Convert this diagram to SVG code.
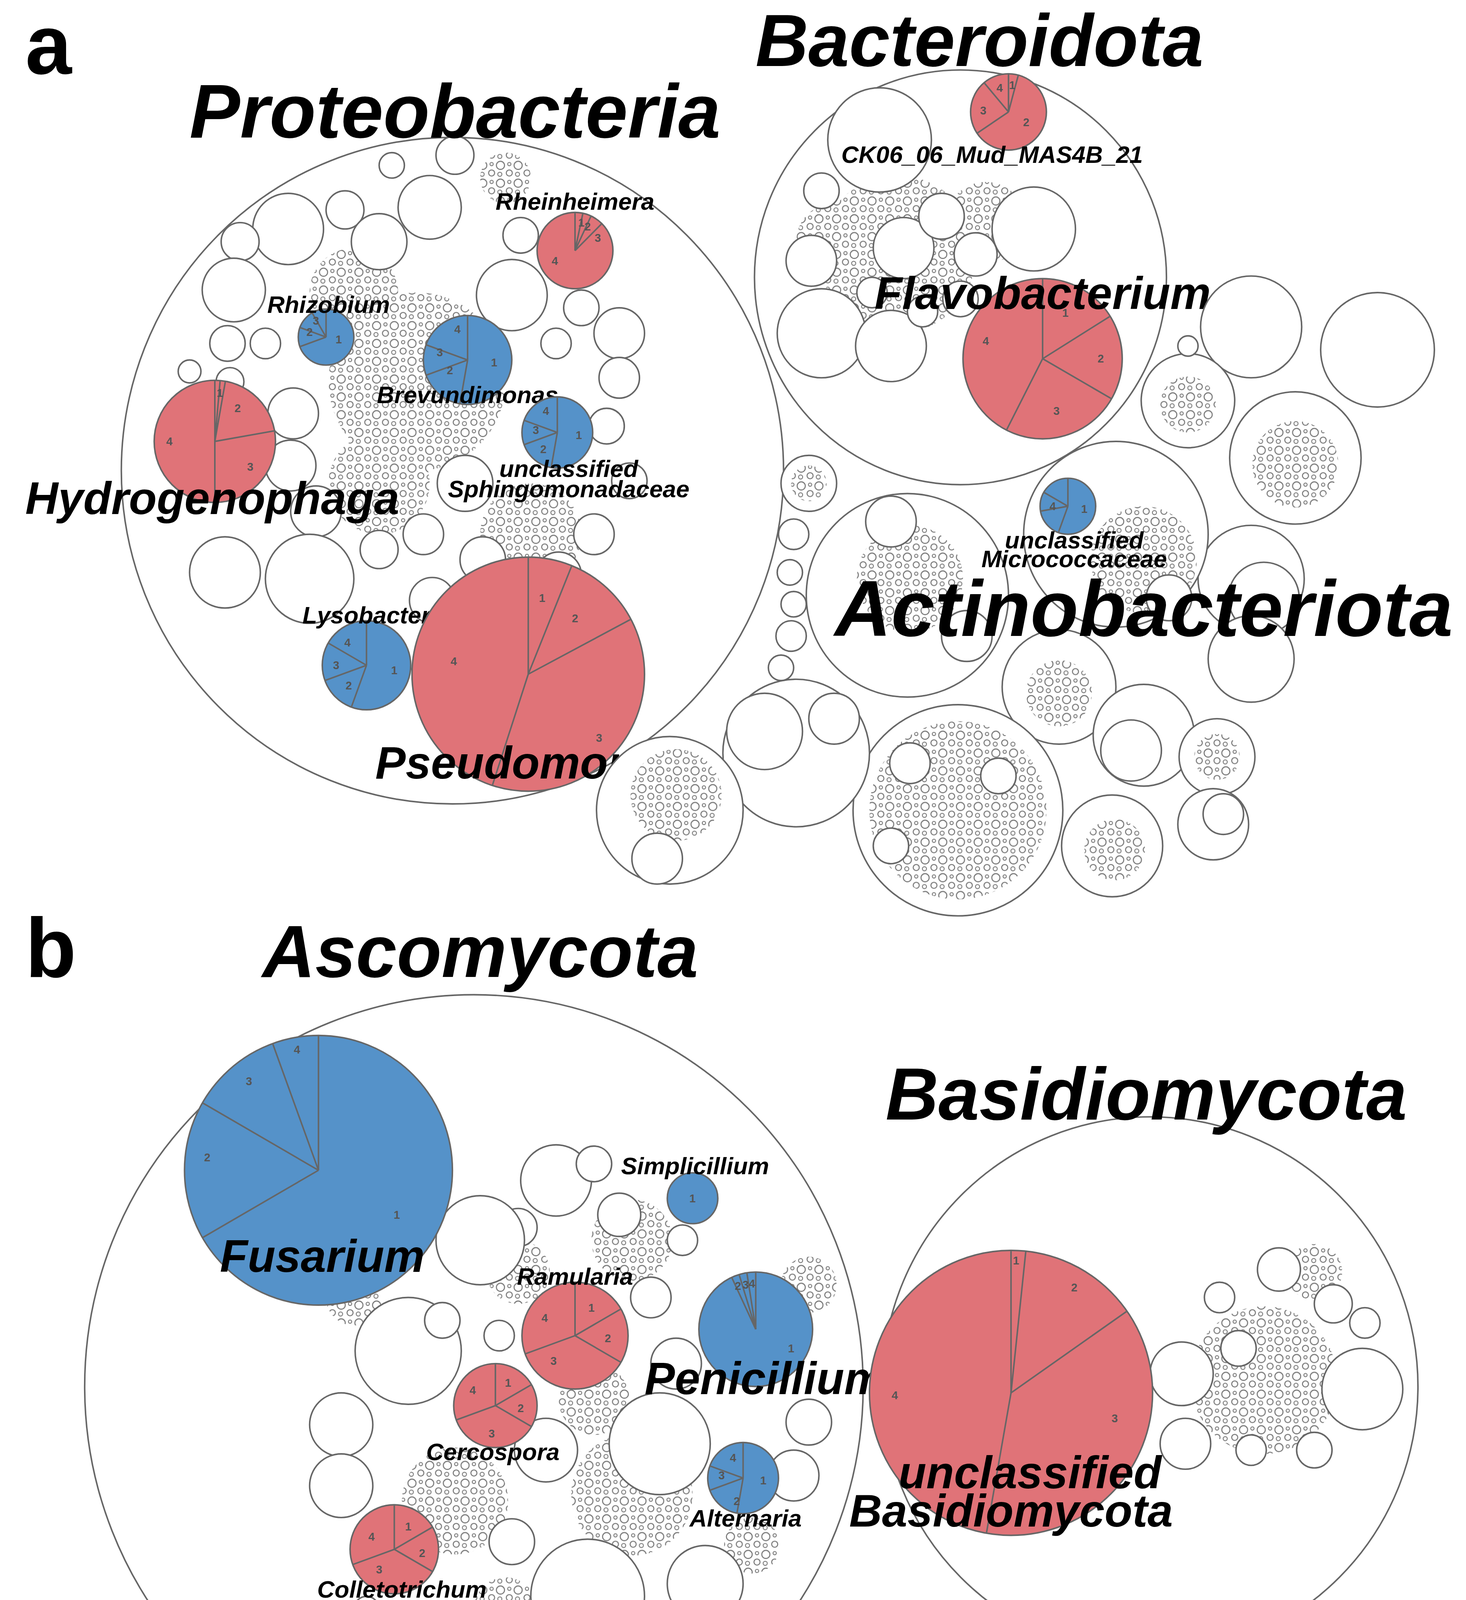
<svg xmlns="http://www.w3.org/2000/svg" width="3753" height="5106" viewBox="0 0 3753 5106">
<defs>
<style>
.w{fill:#fff;stroke:#666;stroke-width:1.2}
.big{fill:none;stroke:#666;stroke-width:1.2}
.r{fill:#e07378;stroke:#666;stroke-width:1.2}
.b{fill:#5592c9;stroke:#666;stroke-width:1.2}
.d{fill:url(#dots);stroke:none}
.s line{stroke:#666;stroke-width:1.2}
.n{font-family:"Liberation Sans",Arial,sans-serif;font-weight:bold;font-size:9px;fill:#555;text-anchor:middle;dominant-baseline:central}
.l{font-family:"Liberation Sans",Arial,sans-serif;font-weight:bold;font-style:italic;fill:#000;text-anchor:middle}
.lg{font-family:"Liberation Sans",Arial,sans-serif;font-weight:bold;font-size:27px;fill:#111}
</style>
<pattern id="dots" width="14" height="14" patternUnits="userSpaceOnUse">
<rect width="14" height="14" fill="#fff"/>
<circle cx="4" cy="4" r="3.2" fill="none" stroke="#777" stroke-width="0.8"/>
<circle cx="11" cy="10" r="2.4" fill="none" stroke="#777" stroke-width="0.8"/>
<circle cx="3.5" cy="11" r="1.6" fill="none" stroke="#777" stroke-width="0.7"/>
<circle cx="11" cy="3" r="1.3" fill="none" stroke="#777" stroke-width="0.7"/>
</pattern>
</defs>
<rect width="3753" height="5106" fill="#fff"/>
<g transform="scale(3.2353,3.2564)">
<text x="20" y="58" style="font-family:'Liberation Sans',Arial,sans-serif;font-weight:bold;font-size:66px">a</text>
<text x="20" y="768" style="font-family:'Liberation Sans',Arial,sans-serif;font-weight:bold;font-size:66px">b</text>

<g id="proteobacteria">
<circle class="big" cx="358" cy="370" r="262"/>
<circle class="d" cx="330" cy="300" r="70"/><circle class="d" cx="420" cy="420" r="40"/><circle class="d" cx="280" cy="230" r="35"/><circle class="d" cx="300" cy="380" r="40"/><circle class="d" cx="400" cy="140" r="20"/>
<circle class="w" cx="228" cy="180" r="28"/><circle class="w" cx="190" cy="190" r="15"/><circle class="w" cx="185" cy="228" r="25"/><circle class="w" cx="273" cy="165" r="15"/><circle class="w" cx="300" cy="190" r="22"/><circle class="w" cx="340" cy="163" r="25"/><circle class="w" cx="360" cy="122" r="15"/><circle class="w" cx="405" cy="232" r="28"/><circle class="w" cx="412" cy="185" r="14"/><circle class="w" cx="490" cy="262" r="20"/><circle class="w" cx="490" cy="297" r="16"/><circle class="w" cx="480" cy="335" r="14"/><circle class="w" cx="498" cy="378" r="14"/><circle class="w" cx="460" cy="242" r="14"/><circle class="w" cx="232" cy="325" r="20"/><circle class="w" cx="230" cy="366" r="20"/><circle class="w" cx="250" cy="402" r="20"/><circle class="w" cx="245" cy="455" r="35"/><circle class="w" cx="178" cy="450" r="28"/><circle class="w" cx="300" cy="432" r="15"/><circle class="w" cx="335" cy="420" r="16"/><circle class="w" cx="368" cy="380" r="22"/><circle class="w" cx="382" cy="440" r="18"/><circle class="w" cx="342" cy="472" r="18"/><circle class="w" cx="180" cy="270" r="14"/><circle class="w" cx="182" cy="300" r="11"/><circle class="w" cx="470" cy="420" r="16"/><circle class="w" cx="442" cy="452" r="18"/><circle class="w" cx="150" cy="292" r="9"/><circle class="w" cx="210" cy="270" r="12"/><circle class="w" cx="310" cy="130" r="10"/><circle class="w" cx="440" cy="270" r="12"/>
</g>
<g id="pie-rheinheimera" class="s" transform="translate(455,197)"><circle class="r" r="30"/><line y2="-30"/><line y2="-30" transform="rotate(12)"/><line y2="-30" transform="rotate(25)"/><line y2="-30" transform="rotate(45)"/><text class="n" x="18" y="-10">3</text><text class="n" x="-16" y="8">4</text><text class="n" x="5" y="-22">1</text><text class="n" x="10" y="-19">2</text></g>
<text class="l" x="455" y="165" font-size="19">Rheinheimera</text>
<g id="pie-rhizobium" class="s" transform="translate(258,265)"><circle class="b" r="22"/><line y2="-22"/><line y2="-22" transform="rotate(250)"/><line y2="-22" transform="rotate(290)"/><line y2="-22" transform="rotate(330)"/><text class="n" x="10" y="2">1</text><text class="n" x="-13" y="-4">2</text><text class="n" x="-8" y="-13">3</text></g>
<text class="l" x="260" y="246" font-size="19">Rhizobium</text>
<g id="pie-brevundimonas" class="s" transform="translate(370,283)"><circle class="b" r="35"/><line y2="-35"/><line y2="-35" transform="rotate(190)"/><line y2="-35" transform="rotate(250)"/><line y2="-35" transform="rotate(290)"/><text class="n" x="21" y="2">1</text><text class="n" x="-14" y="8">2</text><text class="n" x="-22" y="-6">3</text><text class="n" x="-8" y="-24">4</text></g>
<text class="l" x="370" y="317" font-size="19">Brevundimonas</text>
<g id="pie-sphingomonadaceae" class="s" transform="translate(441,340)"><circle class="b" r="28"/><line y2="-28"/><line y2="-28" transform="rotate(190)"/><line y2="-28" transform="rotate(250)"/><line y2="-28" transform="rotate(290)"/><text class="n" x="17" y="2">1</text><text class="n" x="-11" y="13">2</text><text class="n" x="-17" y="-2">3</text><text class="n" x="-9" y="-17">4</text></g>
<text class="l" x="450" y="375" font-size="19">unclassified</text>
<text class="l" x="450" y="391" font-size="19">Sphingomonadaceae</text>
<g id="pie-hydrogenophaga" class="s" transform="translate(170,347)"><circle class="r" r="48"/><line y2="-48"/><line y2="-48" transform="rotate(5)"/><line y2="-48" transform="rotate(10)"/><line y2="-48" transform="rotate(80)"/><line y2="-48" transform="rotate(180)"/><text class="n" x="18" y="-26">2</text><text class="n" x="28" y="20">3</text><text class="n" x="-36" y="0">4</text><text class="n" x="4" y="-38">1</text></g>
<text class="l" x="168" y="404" font-size="36">Hydrogenophaga</text>
<g id="pie-lysobacter" class="s" transform="translate(290,523)"><circle class="b" r="35"/><line y2="-35"/><line y2="-35" transform="rotate(200)"/><line y2="-35" transform="rotate(250)"/><line y2="-35" transform="rotate(300)"/><text class="n" x="22" y="4">1</text><text class="n" x="-14" y="16">2</text><text class="n" x="-24" y="0">3</text><text class="n" x="-15" y="-18">4</text></g>
<text class="l" x="290" y="490" font-size="19">Lysobacter</text>
<g id="pie-pseudomonas" class="s" transform="translate(418,530)"><circle class="r" r="92"/><line y2="-92"/><line y2="-92" transform="rotate(22)"/><line y2="-92" transform="rotate(62)"/><line y2="-92" transform="rotate(198)"/><text class="n" x="11" y="-60">1</text><text class="n" x="37" y="-44">2</text><text class="n" x="56" y="50">3</text><text class="n" x="-59" y="-10">4</text></g>
<text class="l" x="420" y="612" font-size="36">Pseudomonas</text>
<text class="l" x="360" y="108" font-size="60">Proteobacteria</text>

<g id="bacteroidota">
<circle class="big" cx="760" cy="218" r="163"/>
<circle class="d" cx="710" cy="200" r="62"/><circle class="d" cx="780" cy="175" r="32"/><circle class="d" cx="660" cy="190" r="30"/>
<circle class="w" cx="696" cy="110" r="41"/><circle class="w" cx="818" cy="180" r="33"/><circle class="w" cx="650" cy="262" r="35"/><circle class="w" cx="705" cy="272" r="28"/><circle class="w" cx="642" cy="205" r="20"/><circle class="w" cx="715" cy="195" r="24"/><circle class="w" cx="745" cy="170" r="18"/><circle class="w" cx="772" cy="200" r="17"/><circle class="w" cx="650" cy="150" r="14"/><circle class="w" cx="760" cy="235" r="14"/><circle class="w" cx="730" cy="245" r="12"/><circle class="w" cx="690" cy="230" r="12"/>
</g>
<g id="pie-bacteroidota" class="s" transform="translate(798,88)"><circle class="r" r="30"/><line y2="-30"/><line y2="-30" transform="rotate(15)"/><line y2="-30" transform="rotate(236)"/><line y2="-30" transform="rotate(320)"/><text class="n" x="14" y="8">2</text><text class="n" x="-20" y="-1">3</text><text class="n" x="-7" y="-19">4</text><text class="n" x="3" y="-21">1</text></g>
<text class="l" x="785" y="128" font-size="19">CK06_06_Mud_MAS4B_21</text>
<g id="pie-flavobacterium" class="s" transform="translate(825,282)"><circle class="r" r="63"/><line y2="-63"/><line y2="-63" transform="rotate(58)"/><line y2="-63" transform="rotate(120)"/><line y2="-63" transform="rotate(207)"/><text class="n" x="18" y="-36">1</text><text class="n" x="46" y="0">2</text><text class="n" x="11" y="41">3</text><text class="n" x="-45" y="-14">4</text></g>
<text class="l" x="825" y="243" font-size="36">Flavobacterium</text>
<text class="l" x="775" y="52" font-size="58">Bacteroidota</text>

<g id="actinobacteriota">
<circle class="w" cx="1090" cy="275" r="45"/><circle class="w" cx="990" cy="257" r="40"/><circle class="w" cx="940" cy="315" r="37"/><circle class="d" cx="940" cy="318" r="22"/>
<circle class="w" cx="1025" cy="360" r="52"/><circle class="d" cx="1025" cy="365" r="34"/>
<circle class="w" cx="990" cy="455" r="42"/><circle class="w" cx="1000" cy="470" r="28"/><circle class="w" cx="990" cy="518" r="34"/>
<circle class="w" cx="718" cy="468" r="80"/><circle class="d" cx="720" cy="455" r="42"/><circle class="w" cx="705" cy="410" r="20"/><circle class="w" cx="765" cy="500" r="20"/>
<circle class="w" cx="883" cy="420" r="73"/><circle class="d" cx="905" cy="440" r="42"/><circle class="w" cx="925" cy="470" r="18"/>
<circle class="w" cx="838" cy="540" r="45"/><circle class="d" cx="838" cy="545" r="26"/>
<circle class="w" cx="905" cy="578" r="40"/><circle class="w" cx="895" cy="590" r="24"/>
<circle class="w" cx="963" cy="595" r="30"/><circle class="d" cx="963" cy="595" r="18"/>
<circle class="w" cx="960" cy="648" r="28"/><circle class="w" cx="968" cy="640" r="16"/>
<circle class="w" cx="880" cy="665" r="40"/><circle class="d" cx="882" cy="668" r="24"/>
<circle class="w" cx="758" cy="637" r="83"/><circle class="d" cx="758" cy="637" r="70"/><circle class="w" cx="720" cy="600" r="16"/><circle class="w" cx="790" cy="610" r="14"/><circle class="w" cx="705" cy="665" r="14"/>
<circle class="w" cx="630" cy="592" r="58"/><circle class="w" cx="605" cy="575" r="30"/><circle class="w" cx="660" cy="565" r="20"/>
<circle class="w" cx="530" cy="637" r="58"/><circle class="d" cx="535" cy="625" r="36"/><circle class="w" cx="520" cy="675" r="20"/>
<circle class="w" cx="640" cy="380" r="22"/><circle class="d" cx="640" cy="380" r="14"/><circle class="w" cx="628" cy="420" r="12"/><circle class="w" cx="625" cy="450" r="10"/><circle class="w" cx="628" cy="475" r="10"/><circle class="w" cx="626" cy="500" r="12"/><circle class="w" cx="618" cy="525" r="10"/><circle class="w" cx="940" cy="272" r="8"/>
</g>
<g id="pie-micrococcaceae" class="s" transform="translate(845,398)"><circle class="b" r="22"/><line y2="-22"/><line y2="-22" transform="rotate(200)"/><line y2="-22" transform="rotate(260)"/><line y2="-22" transform="rotate(300)"/><text class="n" x="13" y="2">1</text><text class="n" x="-12" y="0">4</text></g>
<text class="l" x="850" y="431" font-size="19">unclassified</text>
<text class="l" x="850" y="446" font-size="19">Micrococcaceae</text>
<text class="l" x="905" y="500" font-size="62">Actinobacteriota</text>

<g id="ascomycota">
<circle class="big" cx="375" cy="1090" r="308"/>
<circle class="d" cx="500" cy="1175" r="48"/><circle class="d" cx="470" cy="1100" r="28"/><circle class="d" cx="360" cy="1180" r="42"/><circle class="d" cx="500" cy="975" r="32"/><circle class="d" cx="595" cy="1215" r="22"/><circle class="d" cx="410" cy="1000" r="25"/><circle class="d" cx="280" cy="1020" r="22"/><circle class="d" cx="640" cy="1010" r="22"/><circle class="d" cx="400" cy="1265" r="25"/>
<circle class="w" cx="440" cy="928" r="28"/><circle class="w" cx="490" cy="955" r="17"/><circle class="w" cx="410" cy="965" r="15"/><circle class="w" cx="380" cy="975" r="35"/><circle class="w" cx="323" cy="1062" r="42"/><circle class="w" cx="270" cy="1120" r="25"/><circle class="w" cx="270" cy="1168" r="25"/><circle class="w" cx="522" cy="1135" r="40"/><circle class="w" cx="432" cy="1140" r="25"/><circle class="w" cx="465" cy="1255" r="45"/><circle class="w" cx="558" cy="1245" r="30"/><circle class="w" cx="628" cy="1160" r="20"/><circle class="w" cx="640" cy="1118" r="18"/><circle class="w" cx="535" cy="1072" r="20"/><circle class="w" cx="515" cy="1020" r="16"/><circle class="w" cx="405" cy="1212" r="18"/><circle class="w" cx="350" cy="1038" r="14"/><circle class="w" cx="422" cy="1322" r="17"/><circle class="w" cx="482" cy="1332" r="22"/><circle class="w" cx="575" cy="1298" r="14"/><circle class="w" cx="470" cy="915" r="14"/><circle class="w" cx="395" cy="1050" r="12"/><circle class="w" cx="540" cy="975" r="12"/><circle class="w" cx="330" cy="1300" r="12"/><circle class="w" cx="290" cy="1265" r="10"/>
</g>
<g id="pie-fusarium" class="s" transform="translate(252,920)"><circle class="b" r="106"/><line y2="-106"/><line y2="-106" transform="rotate(240)"/><line y2="-106" transform="rotate(300)"/><line y2="-106" transform="rotate(340)"/><text class="n" x="62" y="35">1</text><text class="n" x="-88" y="-10">2</text><text class="n" x="-55" y="-70">3</text><text class="n" x="-17" y="-95">4</text></g>
<text class="l" x="255" y="1000" font-size="36">Fusarium</text>
<g id="pie-simplicillium" class="s" transform="translate(548,942)"><circle class="b" r="20"/><text class="n" x="0" y="0">1</text></g>
<text class="l" x="550" y="923" font-size="19">Simplicillium</text>
<g id="pie-ramularia" class="s" transform="translate(455,1050)"><circle class="r" r="42"/><line y2="-42"/><line y2="-42" transform="rotate(60)"/><line y2="-42" transform="rotate(120)"/><line y2="-42" transform="rotate(250)"/><text class="n" x="13" y="-22">1</text><text class="n" x="26" y="2">2</text><text class="n" x="-17" y="20">3</text><text class="n" x="-24" y="-14">4</text></g>
<text class="l" x="455" y="1010" font-size="19">Ramularia</text>
<g id="pie-penicillium" class="s" transform="translate(598,1045)"><circle class="b" r="45"/><line y2="-45"/><line y2="-45" transform="rotate(335)"/><line y2="-45" transform="rotate(343)"/><line y2="-45" transform="rotate(351)"/><text class="n" x="28" y="15">1</text><text class="n" x="-14" y="-34">2</text><text class="n" x="-8" y="-35">3</text><text class="n" x="-3" y="-36">4</text></g>
<text class="l" x="605" y="1096" font-size="36">Penicillium</text>
<g id="pie-cercospora" class="s" transform="translate(392,1105)"><circle class="r" r="33"/><line y2="-33"/><line y2="-33" transform="rotate(60)"/><line y2="-33" transform="rotate(120)"/><line y2="-33" transform="rotate(250)"/><text class="n" x="10" y="-18">1</text><text class="n" x="20" y="2">2</text><text class="n" x="-3" y="22">3</text><text class="n" x="-18" y="-12">4</text></g>
<text class="l" x="390" y="1148" font-size="19">Cercospora</text>
<g id="pie-alternaria" class="s" transform="translate(588,1162)"><circle class="b" r="28"/><line y2="-28"/><line y2="-28" transform="rotate(190)"/><line y2="-28" transform="rotate(250)"/><line y2="-28" transform="rotate(290)"/><text class="n" x="16" y="2">1</text><text class="n" x="-5" y="18">2</text><text class="n" x="-17" y="-2">3</text><text class="n" x="-8" y="-16">4</text></g>
<text class="l" x="590" y="1200" font-size="19">Alternaria</text>
<g id="pie-colletotrichum" class="s" transform="translate(312,1218)"><circle class="r" r="35"/><line y2="-35"/><line y2="-35" transform="rotate(60)"/><line y2="-35" transform="rotate(120)"/><line y2="-35" transform="rotate(250)"/><text class="n" x="11" y="-18">1</text><text class="n" x="22" y="3">2</text><text class="n" x="-12" y="16">3</text><text class="n" x="-18" y="-10">4</text></g>
<text class="l" x="318" y="1256" font-size="19">Colletotrichum</text>
<g id="pie-stachybotrys" class="s" transform="translate(527,1317)"><circle class="b" r="36"/><text class="n" x="0" y="5">1</text></g>
<text class="l" x="530" y="1293" font-size="19">Stachybotrys</text>
<g id="pie-unclassified-ascomycota" class="s" transform="translate(372,1308)"><circle class="r" r="30"/><line y2="-30"/><line y2="-30" transform="rotate(60)"/><line y2="-30" transform="rotate(120)"/><line y2="-30" transform="rotate(250)"/><text class="n" x="9" y="-16">1</text><text class="n" x="19" y="3">2</text><text class="n" x="-12" y="14">3</text><text class="n" x="-15" y="-12">4</text></g>
<text class="l" x="370" y="1346" font-size="19">unclassified</text>
<text class="l" x="370" y="1363" font-size="19">Ascomycota</text>
<text class="l" x="380" y="768" font-size="58">Ascomycota</text>

<g id="basidiomycota">
<circle class="big" cx="910" cy="1090" r="212"/>
<circle class="d" cx="1000" cy="1085" r="58"/><circle class="d" cx="1040" cy="1000" r="22"/>
<circle class="w" cx="1078" cy="1092" r="32"/><circle class="w" cx="935" cy="1080" r="25"/><circle class="w" cx="1012" cy="998" r="17"/><circle class="w" cx="1055" cy="1025" r="15"/><circle class="w" cx="938" cy="1135" r="20"/><circle class="w" cx="980" cy="1060" r="14"/><circle class="w" cx="1040" cy="1140" r="14"/><circle class="w" cx="965" cy="1020" r="12"/><circle class="w" cx="1080" cy="1040" r="12"/><circle class="w" cx="990" cy="1140" r="12"/>
</g>
<g id="pie-unclassified-basidiomycota" class="s" transform="translate(800,1095)"><circle class="r" r="112"/><line y2="-112"/><line y2="-112" transform="rotate(6)"/><line y2="-112" transform="rotate(55)"/><line y2="-112" transform="rotate(190)"/><text class="n" x="4" y="-104">1</text><text class="n" x="50" y="-83">2</text><text class="n" x="82" y="20">3</text><text class="n" x="-92" y="2">4</text></g>
<text class="l" x="815" y="1170" font-size="36">unclassified</text>
<text class="l" x="800" y="1200" font-size="36">Basidiomycota</text>
<text class="l" x="907" y="880" font-size="58">Basidiomycota</text>

<g id="others">
<circle class="w" cx="665" cy="1320" r="53"/><circle class="big" cx="662" cy="1322" r="49"/>
<circle class="w" cx="400" cy="1435" r="58"/><circle class="big" cx="400" cy="1437" r="55"/>
<circle class="w" cx="580" cy="1372" r="33"/><circle class="w" cx="560" cy="1362" r="20"/>
<circle class="w" cx="505" cy="1395" r="25"/><circle class="w" cx="498" cy="1395" r="14"/>
<circle class="w" cx="345" cy="1413" r="15"/><circle class="w" cx="597" cy="1327" r="14"/><circle class="d" cx="597" cy="1327" r="9"/>
</g>

<g id="legend">
<circle class="r" cx="805" cy="1410" r="21"/><text class="lg" x="850" y="1420">Enriched by ew</text>
<circle class="b" cx="805" cy="1468" r="21"/><text class="lg" x="850" y="1478">Suppressed by ew</text>
<circle class="w" cx="805" cy="1526" r="21"/><text class="lg" x="850" y="1536">Non-significant</text>
</g>
</g>
</svg>
